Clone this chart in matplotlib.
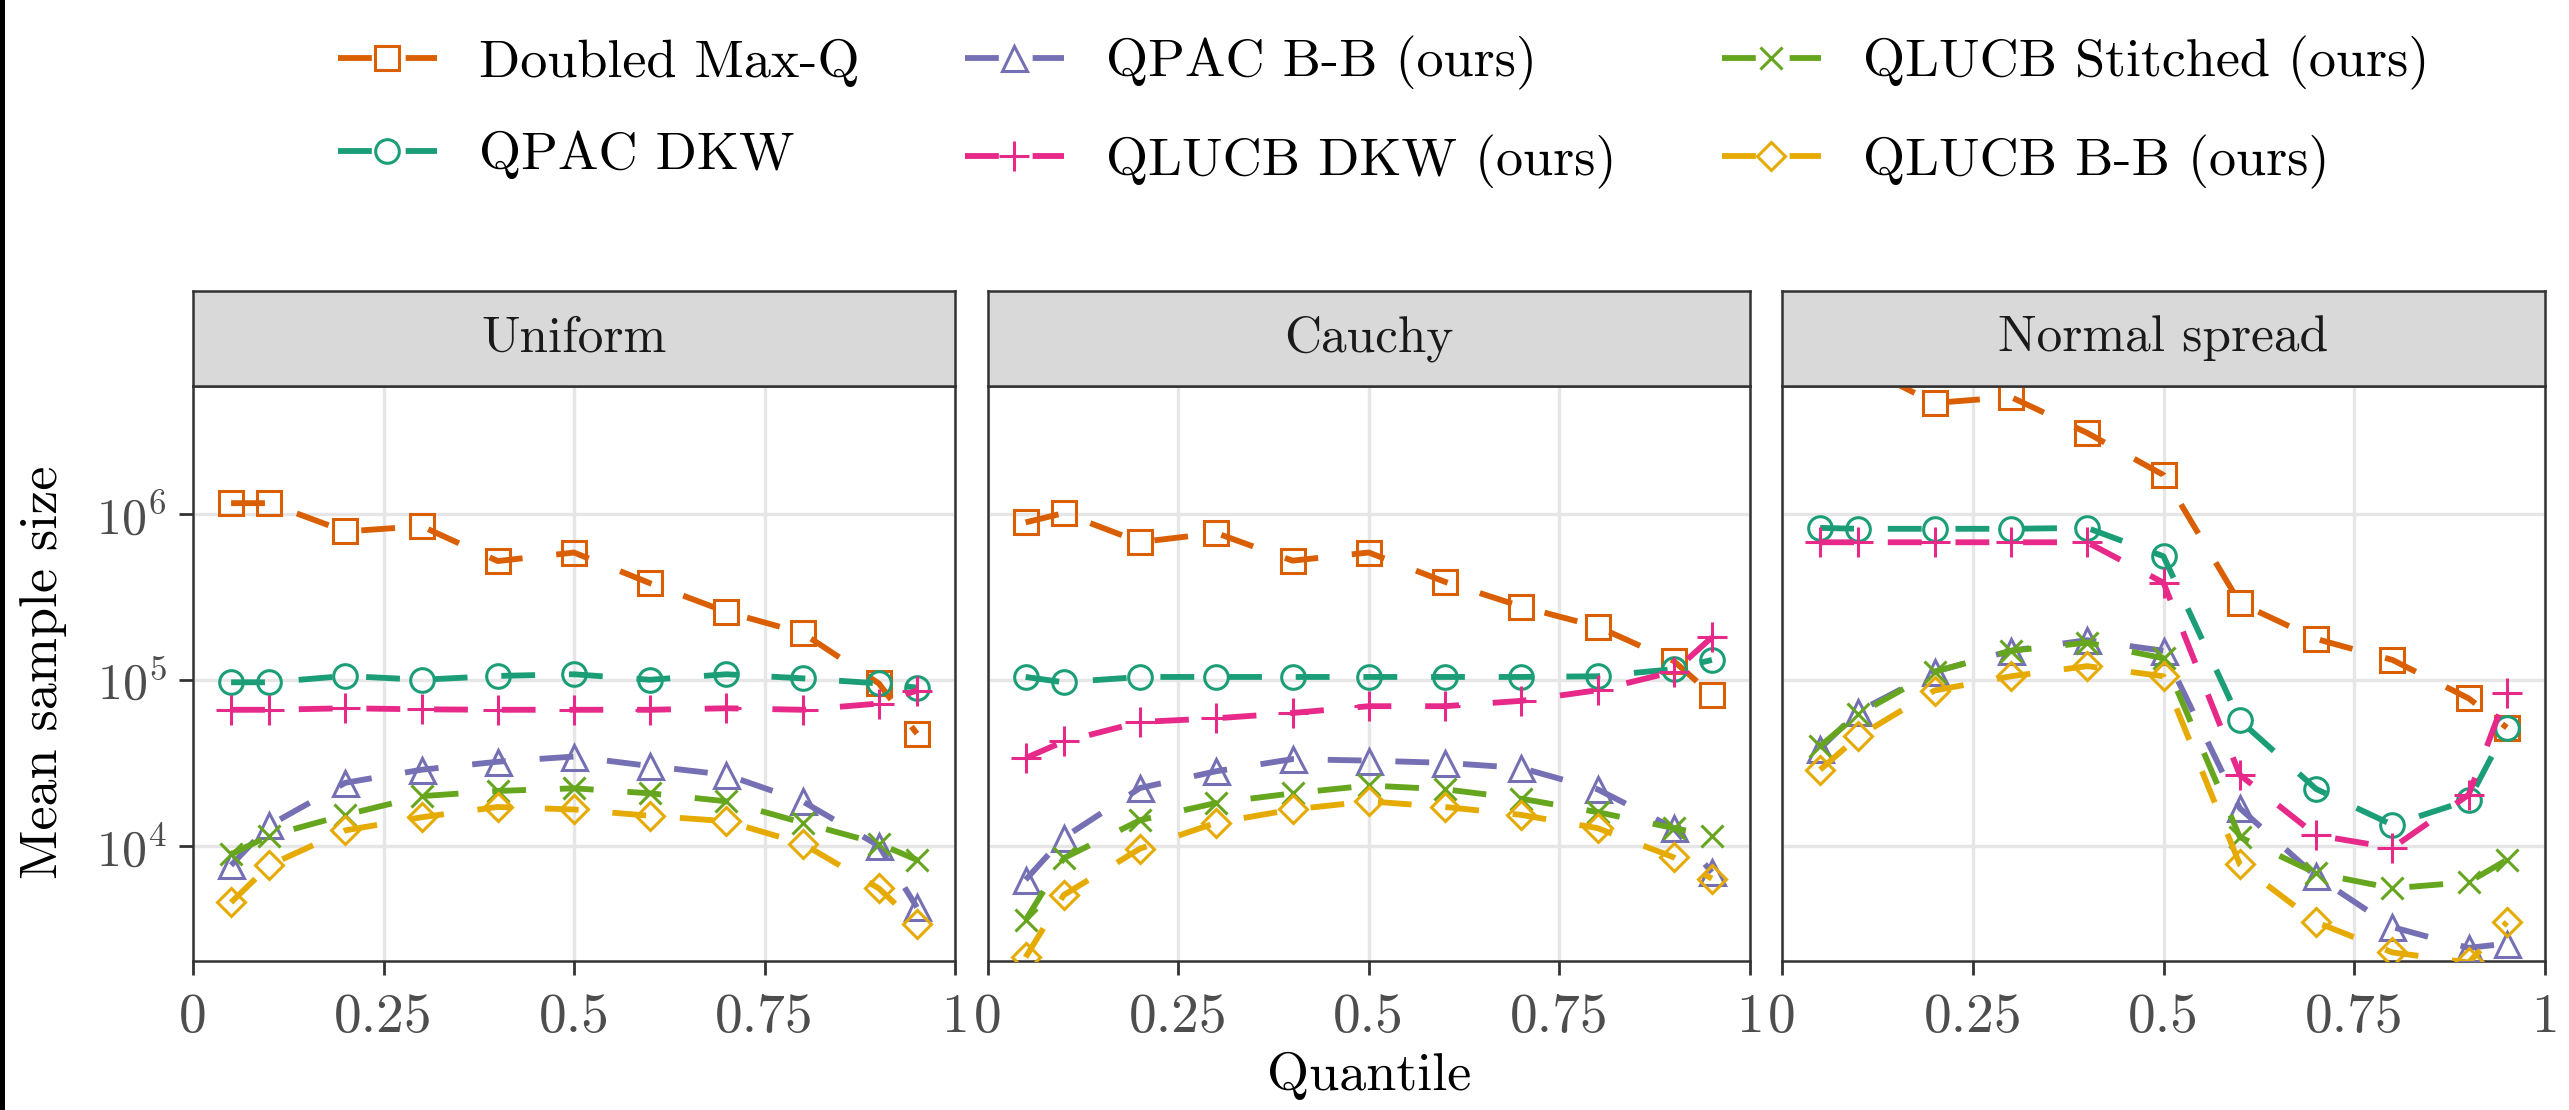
import matplotlib
matplotlib.use("Agg")
import matplotlib.pyplot as plt
from matplotlib.lines import Line2D
from matplotlib.patches import Rectangle

plt.rcParams['font.family'] = 'serif'
plt.rcParams['font.serif'] = ['cmr10']
plt.rcParams['mathtext.fontset'] = 'cm'
plt.rcParams['axes.unicode_minus'] = False
plt.rcParams['axes.formatter.use_mathtext'] = True

# ---------------- data ----------------
quantiles = [0.05, 0.1, 0.2, 0.3, 0.4, 0.5, 0.6, 0.7, 0.8, 0.9, 0.95]
panels = ["Uniform", "Cauchy", "Normal spread"]
methods = ["Doubled Max-Q", "QPAC DKW", "QPAC B-B (ours)",
           "QLUCB DKW (ours)", "QLUCB Stitched (ours)", "QLUCB B-B (ours)"]

# Uniform
maxq_uniform = [1.17e6, 1.17e6, 7.9e5, 8.5e5, 5.24e5, 5.9e5, 3.85e5, 2.59e5, 1.93e5, 9.6e4, 4.78e4]
qpacdkw_uniform = [9.75e4, 9.75e4, 1.065e5, 1.01e5, 1.065e5, 1.09e5, 1.01e5, 1.09e5, 1.03e5, 9.6e4, 9.06e4]
qpacbb_uniform = [7.7e3, 1.34e4, 2.42e4, 2.9e4, 3.24e4, 3.48e4, 3.05e4, 2.7e4, 1.87e4, 1.01e4, 4.3e3]
qlucbdkw_uniform = [6.66e4, 6.66e4, 6.8e4, 6.7e4, 6.66e4, 6.66e4, 6.66e4, 6.8e4, 6.66e4, 7.26e4, 8.7e4]
stitched_uniform = [8.96e3, 1.16e4, 1.55e4, 2.01e4, 2.16e4, 2.24e4, 2.09e4, 1.87e4, 1.39e4, 1.04e4, 8.3e3]
qlucbbb_uniform = [4.6e3, 7.7e3, 1.25e4, 1.5e4, 1.73e4, 1.67e4, 1.53e4, 1.42e4, 1.04e4, 5.6e3, 3.4e3]

# Cauchy
maxq_cauchy = [8.96e5, 1.02e6, 6.82e5, 7.73e5, 5.27e5, 5.9e5, 3.93e5, 2.79e5, 2.11e5, 1.31e5, 8.2e4]
qpacdkw_cauchy = [1.05e5, 9.75e4, 1.05e5, 1.05e5, 1.05e5, 1.05e5, 1.05e5, 1.05e5, 1.06e5, 1.17e5, 1.33e5]
qpacbb_cauchy = [6.3e3, 1.13e4, 2.25e4, 2.84e4, 3.36e4, 3.29e4, 3.19e4, 2.97e4, 2.21e4, 1.29e4, 7.0e3]
qlucbdkw_cauchy = [3.41e4, 4.29e4, 5.62e4, 5.92e4, 6.37e4, 7.0e4, 7.0e4, 7.54e4, 8.73e4, 1.13e5, 1.82e5]
stitched_cauchy = [3.6e3, 8.5e3, 1.44e4, 1.83e4, 2.09e4, 2.33e4, 2.21e4, 1.94e4, 1.61e4, 1.29e4, 1.16e4]
qlucbbb_cauchy = [2.15e3, 5.1e3, 9.7e3, 1.39e4, 1.67e4, 1.87e4, 1.73e4, 1.55e4, 1.29e4, 8.6e3, 6.4e3]

# Normal spread
maxq_normal = [8.5e6, 8.0e6, 4.7e6, 5.1e6, 3.1e6, 1.73e6, 2.93e5, 1.78e5, 1.33e5, 7.8e4, 5.2e4]
qpacdkw_normal = [8.3e5, 8.2e5, 8.2e5, 8.2e5, 8.3e5, 5.6e5, 5.74e4, 2.22e4, 1.35e4, 1.9e4, 5.2e4]
qpacbb_normal = [3.89e4, 6.5e4, 1.13e5, 1.51e5, 1.75e5, 1.51e5, 1.7e4, 6.6e3, 3.27e3, 2.45e3, 2.6e3]
qlucbdkw_normal = [6.8e5, 6.8e5, 6.8e5, 6.8e5, 6.8e5, 3.88e5, 2.7e4, 1.17e4, 9.8e3, 2.05e4, 8.4e4]
stitched_normal = [4.03e4, 6.27e4, 1.13e5, 1.51e5, 1.69e5, 1.36e5, 1.14e4, 6.9e3, 5.6e3, 6.1e3, 8.3e3]
qlucbbb_normal = [2.9e4, 4.6e4, 8.7e4, 1.06e5, 1.22e5, 1.06e5, 7.8e3, 3.5e3, 2.3e3, 2.0e3, 3.5e3]

x_ticks = [0, 0.25, 0.5, 0.75, 1]
x_tick_labels = ["0", "0.25", "0.5", "0.75", "1"]
y_ticks = [1e4, 1e5, 1e6]
y_tick_labels = [r"$10^{4}$", r"$10^{5}$", r"$10^{6}$"]

data = {
    "Uniform": [maxq_uniform, qpacdkw_uniform, qpacbb_uniform,
                qlucbdkw_uniform, stitched_uniform, qlucbbb_uniform],
    "Cauchy": [maxq_cauchy, qpacdkw_cauchy, qpacbb_cauchy,
               qlucbdkw_cauchy, stitched_cauchy, qlucbbb_cauchy],
    "Normal spread": [maxq_normal, qpacdkw_normal, qpacbb_normal,
                      qlucbdkw_normal, stitched_normal, qlucbbb_normal],
}

# ---------------- style ----------------
colors = ["#D95F02", "#1B9E77", "#7570B3", "#E7298A", "#66A61E", "#E6AB02"]
markers = ["s", "o", "^", "+", "x", "D"]
msizes = [17, 17, 18, 21, 16, 14]
LW = 4.2
MEW = 2.2
DASH = (5.8, 5.8)
EDGE = "#333333"

W, H = 2569, 1110
fig = plt.figure(figsize=(W / 100, H / 100), dpi=100)
fig.patch.set_facecolor("white")

def rect(l, t, r, b):
    return [l / W, 1 - b / H, (r - l) / W, (b - t) / H]

panel_lr = [(193, 955), (987.5, 1750), (1782, 2545)]
p_top, p_bot = 386, 961
s_top = 291

ylim = (10 ** 3.31, 10 ** 6.774)

for i, name in enumerate(panels):
    l, r = panel_lr[i]
    ax = fig.add_axes(rect(l, p_top, r, p_bot))
    ax.set_yscale("log")
    ax.set_xlim(0, 1)
    ax.set_ylim(*ylim)
    ax.set_facecolor("white")
    ax.grid(True, which="major", color="#E6E6E6", lw=2.4, zorder=0)
    ax.minorticks_off()
    ax.set_axisbelow(True)
    for sp in ax.spines.values():
        sp.set_color(EDGE)
        sp.set_linewidth(1.8)
    for k in range(len(methods)):
        ax.plot(quantiles, data[name][k], color=colors[k], lw=LW,
                dashes=DASH, dash_capstyle="butt",
                marker=markers[k], markersize=msizes[k],
                markerfacecolor="none", markeredgecolor=colors[k],
                markeredgewidth=MEW, zorder=3)
    ax.set_xticks(x_ticks)
    ax.set_xticklabels(x_tick_labels)
    ax.set_yticks(y_ticks)
    ax.tick_params(axis="x", length=10, width=2, color=EDGE, pad=13,
                   labelsize=40, labelcolor="#4D4D4D")
    if i == 0:
        ax.set_yticklabels(y_tick_labels)
        ax.tick_params(axis="y", length=10, width=2, color=EDGE, pad=9,
                       labelsize=36, labelcolor="#4D4D4D")
    else:
        ax.tick_params(axis="y", length=0, labelleft=False)

    # strip
    sax = fig.add_axes(rect(l, s_top, r, p_top))
    sax.set_xticks([])
    sax.set_yticks([])
    sax.set_facecolor("#D9D9D9")
    for sp in sax.spines.values():
        sp.set_color(EDGE)
        sp.set_linewidth(1.8)
    sax.text(0.5, 0.5, name, ha="center", va="center", fontsize=37,
             color="#1A1A1A", transform=sax.transAxes)

# axis titles
fig.text(44 / W, 1 - 672 / H, "Mean sample size", rotation=90,
         ha="center", va="center", fontsize=39)
fig.text(1369 / W, 1 - 1090 / H, "Quantile", ha="center", va="baseline",
         fontsize=39)

# legend
handles = [Line2D([0], [0], color=colors[k], lw=LW, dashes=DASH,
                  dash_capstyle="butt", marker=markers[k],
                  markersize=msizes[k], markerfacecolor="none",
                  markeredgecolor=colors[k], markeredgewidth=MEW)
           for k in range(len(methods))]
fig.legend(handles, methods, ncol=3, frameon=False, fontsize=39,
           loc="upper left", bbox_to_anchor=(338 / W, 1 - 36 / H),
           borderpad=0, borderaxespad=0, handlelength=1.82,
           handletextpad=0.78, columnspacing=1.95, labelspacing=0.82)

# left edge dark border
fig.add_artist(Rectangle((0, 0), 5 / W, 1, transform=fig.transFigure,
                         facecolor="black", edgecolor="none"))

fig.savefig("out.png", dpi=100)
